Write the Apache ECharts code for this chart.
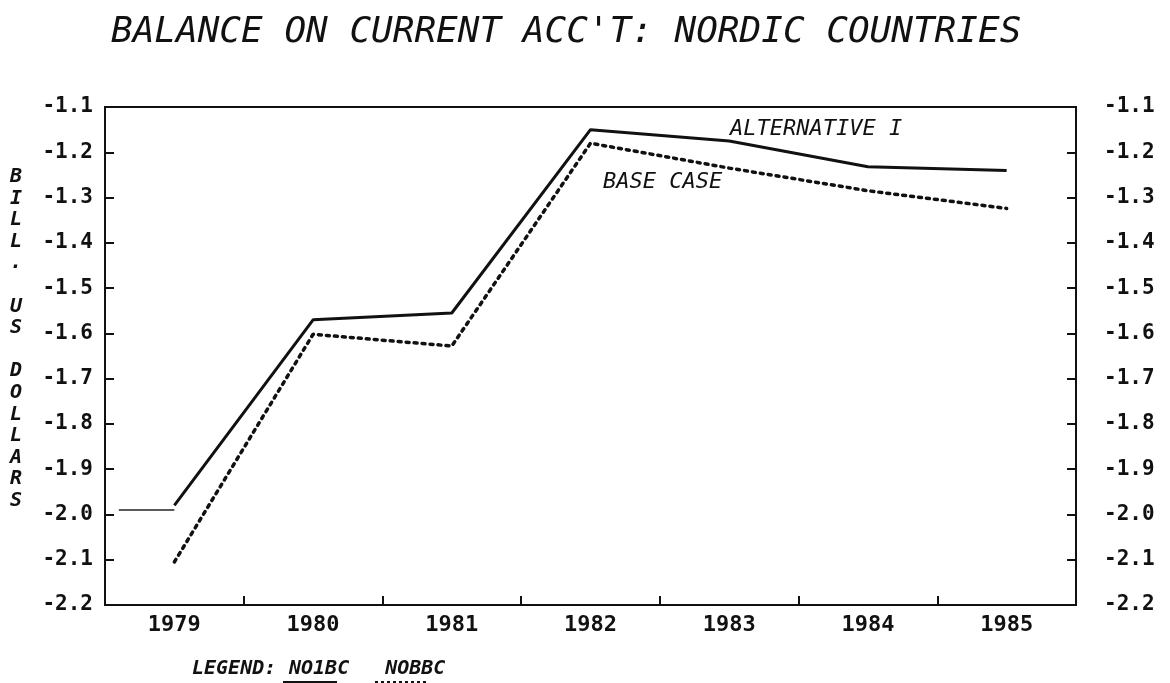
<!DOCTYPE html>
<html>
<head>
<meta charset="utf-8">
<script src="https://cdn.jsdelivr.net/npm/echarts@6/dist/echarts.min.js"></script>
<style>
  html, body { margin: 0; padding: 0; background: #fff; }
  #main { width: 1170px; height: 683px; }
</style>
</head>
<body>
<div id="main"></div>
<script>
// data
var years = ['1979', '1980', '1981', '1982', '1983', '1984', '1985'];
var alternative = [-1.98, -1.57, -1.555, -1.15, -1.175, -1.232, -1.24];
var baseCase = [-2.105, -1.602, -1.628, -1.18, -1.235, -1.285, -1.324];
// short thin stroke drawn to the left of 1979
var preX = [1978.6, 1979.0];
var preY = [-1.99, -1.99];

var mono = '"DejaVu Sans Mono", "Liberation Mono", monospace';

var chart = echarts.init(document.getElementById('main'));

var option = {
  backgroundColor: '#fff',
  animation: false,
  title: {
    text: "BALANCE ON CURRENT ACC'T: NORDIC COUNTRIES",
    left: 106,
    top: 10,
    textStyle: {
      fontFamily: mono,
      fontSize: 36,
      fontStyle: 'italic',
      fontWeight: 'normal',
      color: '#111'
    }
  },
  legend: {
    data: ['NO1BC', 'NOBBC'],
    left: 278,
    top: 654,
    itemWidth: 0,
    itemHeight: 0,
    itemGap: 30,
    textStyle: {
      fontFamily: mono,
      fontSize: 20,
      fontStyle: 'italic',
      fontWeight: 'bold',
      color: '#111'
    }
  },
  grid: {
    left: 105,
    right: 94,
    top: 107,
    bottom: 78,
    show: true,
    borderColor: '#111',
    borderWidth: 2
  },
  xAxis: [{
    type: 'category',
    data: years,
    boundaryGap: true,
    axisLine: { show: true, lineStyle: { color: '#111', width: 2 } },
    axisTick: {
      show: true,
      interval: 0,
      inside: true,
      length: 9,
      lineStyle: { color: '#111', width: 2 }
    },
    axisLabel: {
      margin: 9,
      fontFamily: mono,
      fontSize: 22,
      fontWeight: 'bold',
      color: '#111'
    },
    splitLine: { show: false }
  }, {
    type: 'value',
    min: 1978.5,
    max: 1985.5,
    show: false
  }],
  yAxis: [{
    type: 'value',
    min: -2.2,
    max: -1.1,
    interval: 0.1,
    position: 'left',
    axisLine: { show: true, lineStyle: { color: '#111', width: 2 } },
    axisTick: { show: true, inside: true, length: 9, lineStyle: { color: '#111', width: 2 } },
    axisLabel: {
      margin: 12,
      fontFamily: mono,
      fontSize: 21,
      fontWeight: 'bold',
      color: '#111',
      formatter: function (v) { return v.toFixed(1); }
    },
    splitLine: { show: false }
  }, {
    type: 'value',
    min: -2.2,
    max: -1.1,
    interval: 0.1,
    position: 'right',
    axisLine: { show: true, lineStyle: { color: '#111', width: 2 } },
    axisTick: { show: true, inside: true, length: 9, lineStyle: { color: '#111', width: 2 } },
    axisLabel: {
      margin: 28,
      fontFamily: mono,
      fontSize: 21,
      fontWeight: 'bold',
      color: '#111',
      formatter: function (v) { return v.toFixed(1); }
    },
    splitLine: { show: false }
  }],
  series: [
    {
      name: 'NO1BC',
      type: 'line',
      data: alternative,
      symbol: 'none',
      lineStyle: { color: '#111', width: 3 }
    },
    {
      name: 'NOBBC',
      type: 'line',
      data: baseCase,
      symbol: 'none',
      lineStyle: { color: '#111', width: 3.5, type: [3, 5], cap: 'round' }
    },
    {
      name: 'pre',
      type: 'line',
      xAxisIndex: 1,
      data: preX.map(function (x, i) { return [x, preY[i]]; }),
      symbol: 'none',
      lineStyle: { color: '#222', width: 1.5 }
    }
  ],
  graphic: [
    {
      type: 'text',
      left: 10,
      top: 166,
      style: {
        text: 'B\nI\nL\nL\n.\n\nU\nS\n\nD\nO\nL\nL\nA\nR\nS',
        font: 'italic bold 20px ' + mono,
        lineHeight: 21.6,
        fill: '#111'
      }
    },
    {
      type: 'text',
      left: 730,
      top: 118,
      style: {
        text: 'ALTERNATIVE I',
        font: 'italic 22px ' + mono,
        fill: '#111'
      }
    },
    {
      type: 'text',
      left: 603,
      top: 171,
      style: {
        text: 'BASE CASE',
        font: 'italic 22px ' + mono,
        fill: '#111'
      }
    },
    {
      type: 'text',
      left: 192,
      top: 659,
      style: {
        text: 'LEGEND:',
        font: 'italic bold 20px ' + mono,
        fill: '#111'
      }
    },
    {
      type: 'line',
      shape: { x1: 283, y1: 682, x2: 337, y2: 682 },
      style: { stroke: '#111', lineWidth: 2 }
    },
    {
      type: 'line',
      shape: { x1: 375, y1: 682, x2: 429, y2: 682 },
      style: { stroke: '#111', lineWidth: 2, lineDash: [3, 3] }
    }
  ]
};

chart.setOption(option);
window.addEventListener('resize', function () {
  chart.resize();
});
</script>
</body>
</html>
